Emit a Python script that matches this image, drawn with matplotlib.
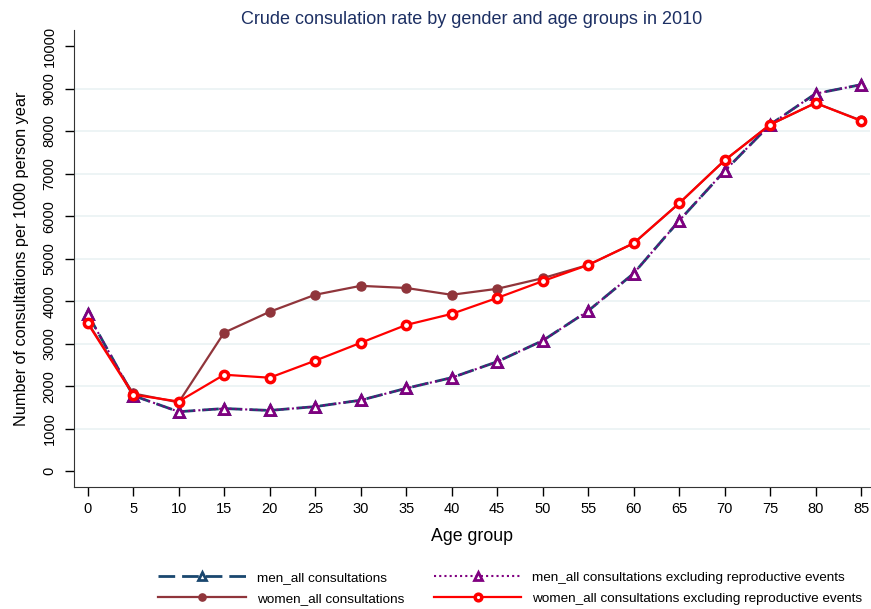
import matplotlib
matplotlib.use('Agg')
import matplotlib.pyplot as plt

plt.rcParams['font.family'] = ['Liberation Sans', 'DejaVu Sans']

ages = [0, 5, 10, 15, 20, 25, 30, 35, 40, 45, 50, 55, 60, 65, 70, 75, 80, 85]

men_all = [3700, 1780, 1400, 1475, 1430, 1520, 1670, 1950, 2200, 2575,
           3070, 3770, 4650, 5890, 7060, 8150, 8880, 9090]
men_excl = [3700, 1780, 1400, 1475, 1430, 1520, 1670, 1950, 2200, 2575,
            3070, 3770, 4650, 5890, 7060, 8150, 8880, 9090]
women_all = [3500, 1830, 1620, 3260, 3750, 4150, 4360, 4310, 4150, 4290,
             4540, 4850, 5360, 6300, 7310, 8150, 8660, 8250]
women_excl = [3480, 1800, 1640, 2270, 2200, 2600, 3020, 3440, 3700, 4075,
              4470, 4850, 5360, 6300, 7310, 8150, 8660, 8240]

yticks = list(range(0, 10001, 1000))

fig = plt.figure(figsize=(8.71, 6.09), dpi=100)
ax = fig.add_axes([0.085, 0.2, 0.914, 0.751])

for y in yticks[1:-1]:
    ax.axhline(y, color='#eaf2f3', lw=1.2, zorder=0)

ax.plot(ages, men_all, color='#1a476f', lw=2, ls=(0, (6, 2.5)), marker='^',
        ms=7, mfc='white', mec='#1a476f', mew=2, label='men_all consultations', zorder=3)
ax.plot(ages, women_all, color='#90353b', lw=1.6, marker='o', ms=6.5,
        mfc='#90353b', mec='#90353b', label='women_all consultations', zorder=3)
ax.plot(ages, men_excl, color='#800080', lw=1.5, ls=(0, (1, 1.5)), marker='^',
        ms=7, mfc='white', mec='#800080', mew=2,
        label='men_all consultations excluding reproductive events', zorder=4)
ax.plot(ages, women_excl, color='#ff0000', lw=1.6, marker='o', ms=6,
        mfc='white', mec='#ff0000', mew=2.5,
        label='women_all consultations excluding reproductive events', zorder=5)

ax.set_xlim(-1.5, 86)
ax.set_ylim(-375, 10380)
ax.set_xticks(ages)
ax.set_yticks(yticks)
ax.tick_params(axis='both', direction='out', length=6.5, width=1, labelsize=10.5,
               colors='black')
ax.tick_params(axis='y', pad=6)
ax.tick_params(axis='x', pad=4)
for lab in ax.get_yticklabels():
    lab.set_rotation(90)
    lab.set_va('center')
ax.spines['top'].set_visible(False)
ax.spines['right'].set_visible(False)
ax.spines['left'].set_color('#333333')
ax.spines['bottom'].set_color('#333333')

ax.set_xlabel('Age group', fontsize=12.8, labelpad=9)
ax.set_ylabel('Number of consultations per 1000 person year', fontsize=11.7, labelpad=10)
ax.set_title('Crude consulation rate by gender and age groups in 2010',
             fontsize=13, color='#1c2f63', pad=4)

leg = fig.legend(loc='lower center', bbox_to_anchor=(0.586, -0.013), ncol=2, frameon=False,
                 fontsize=9.7, handlelength=6.5, handletextpad=0.8, columnspacing=2.2,
                 labelspacing=0.65, markerscale=0.8)

plt.savefig('out.png', dpi=100)
plt.close('all')
